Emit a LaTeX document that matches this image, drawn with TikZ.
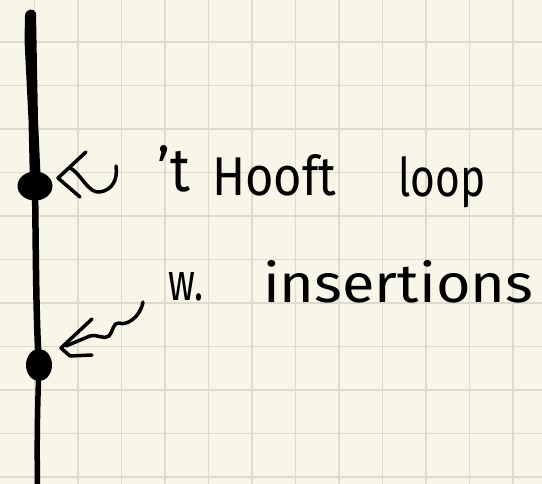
\documentclass[tikz,border=0pt]{standalone}
\usepackage{fontspec}
\setmainfont{Fira Sans}
\usepackage{graphicx}
\usetikzlibrary{shapes.geometric}
\definecolor{paper}{RGB}{248,245,233}
\definecolor{gridline}{RGB}{222,218,205}
\begin{document}
\begin{tikzpicture}[x=1pt,y=-1pt,
  ink/.style={line width=3.5pt,line cap=round,line join=round,black},
  word/.style={anchor=base west,inner sep=0pt,text=black}]
% paper and grid
\fill[paper] (0,0) rectangle (542,484);
\useasboundingbox (0,0) rectangle (542,484);
\foreach \i in {0,...,11} \draw[gridline,line width=1.3pt] (34.5+43.5*\i,0) -- (34.5+43.5*\i,484);
\foreach \j in {1,...,11} \draw[gridline,line width=1.3pt] (0,-1.5+43.5*\j) -- (542,-1.5+43.5*\j);
% the line: heavy upper stretch, lighter lower stretch
\coordinate (top) at (30,12);
\coordinate (bottom) at (37.5,484);
\fill[black] (25,16) .. controls (25,9) and (34,7) .. (36,13)
  -- (38,120) -- (41,186) -- (30,186) -- (28.5,120) -- (24.5,40) -- cycle;
\node[ellipse,fill=black,minimum width=35pt,minimum height=29pt,inner sep=0pt] (v1) at (35,186) {};
\node[ellipse,fill=black,minimum width=26pt,minimum height=32pt,inner sep=0pt] (v2) at (39,365) {};
\draw[line width=6.5pt] (v1.center) .. controls (36,260) and (36,320) .. (v2.center);
\draw[line width=5.5pt] (v2.center) .. controls (37,420) and (37,450) .. (bottom);
% first pointer
\coordinate (a1) at (58,178);
\draw[ink] (86,152) -- (a1) -- (80,197);
\draw[ink] (70,168) .. controls (80,172) and (88,194) .. (100,192)
  .. controls (112,190) and (118,180) .. (116,166);
% second pointer
\coordinate (a2) at (61,348);
\draw[ink] (92,319) -- (a2) -- (70,356) -- (92,355);
\draw[ink] (66,346) -- (90,336) .. controls (98,334) and (104,340) .. (109,336)
  .. controls (113,332) and (113,322) .. (119,323)
  .. controls (126,326) and (140,318) .. (143,302);
% labels
\node[word] (t1) at (157,192) {\resizebox{33pt}{46pt}{'t}};
\node[word] (t2) at (212,196) {\resizebox{124pt}{41pt}{Hooft}};
\node[word] (t3) at (398,197) {\resizebox{87pt}{40pt}{loop}};
\node[word] (t4) at (168,301) {\resizebox{35pt}{28pt}{w.}};
\node[word] (t5) at (263,303) {\resizebox{270pt}{42pt}{insertions}};
\end{tikzpicture}
\end{document}
